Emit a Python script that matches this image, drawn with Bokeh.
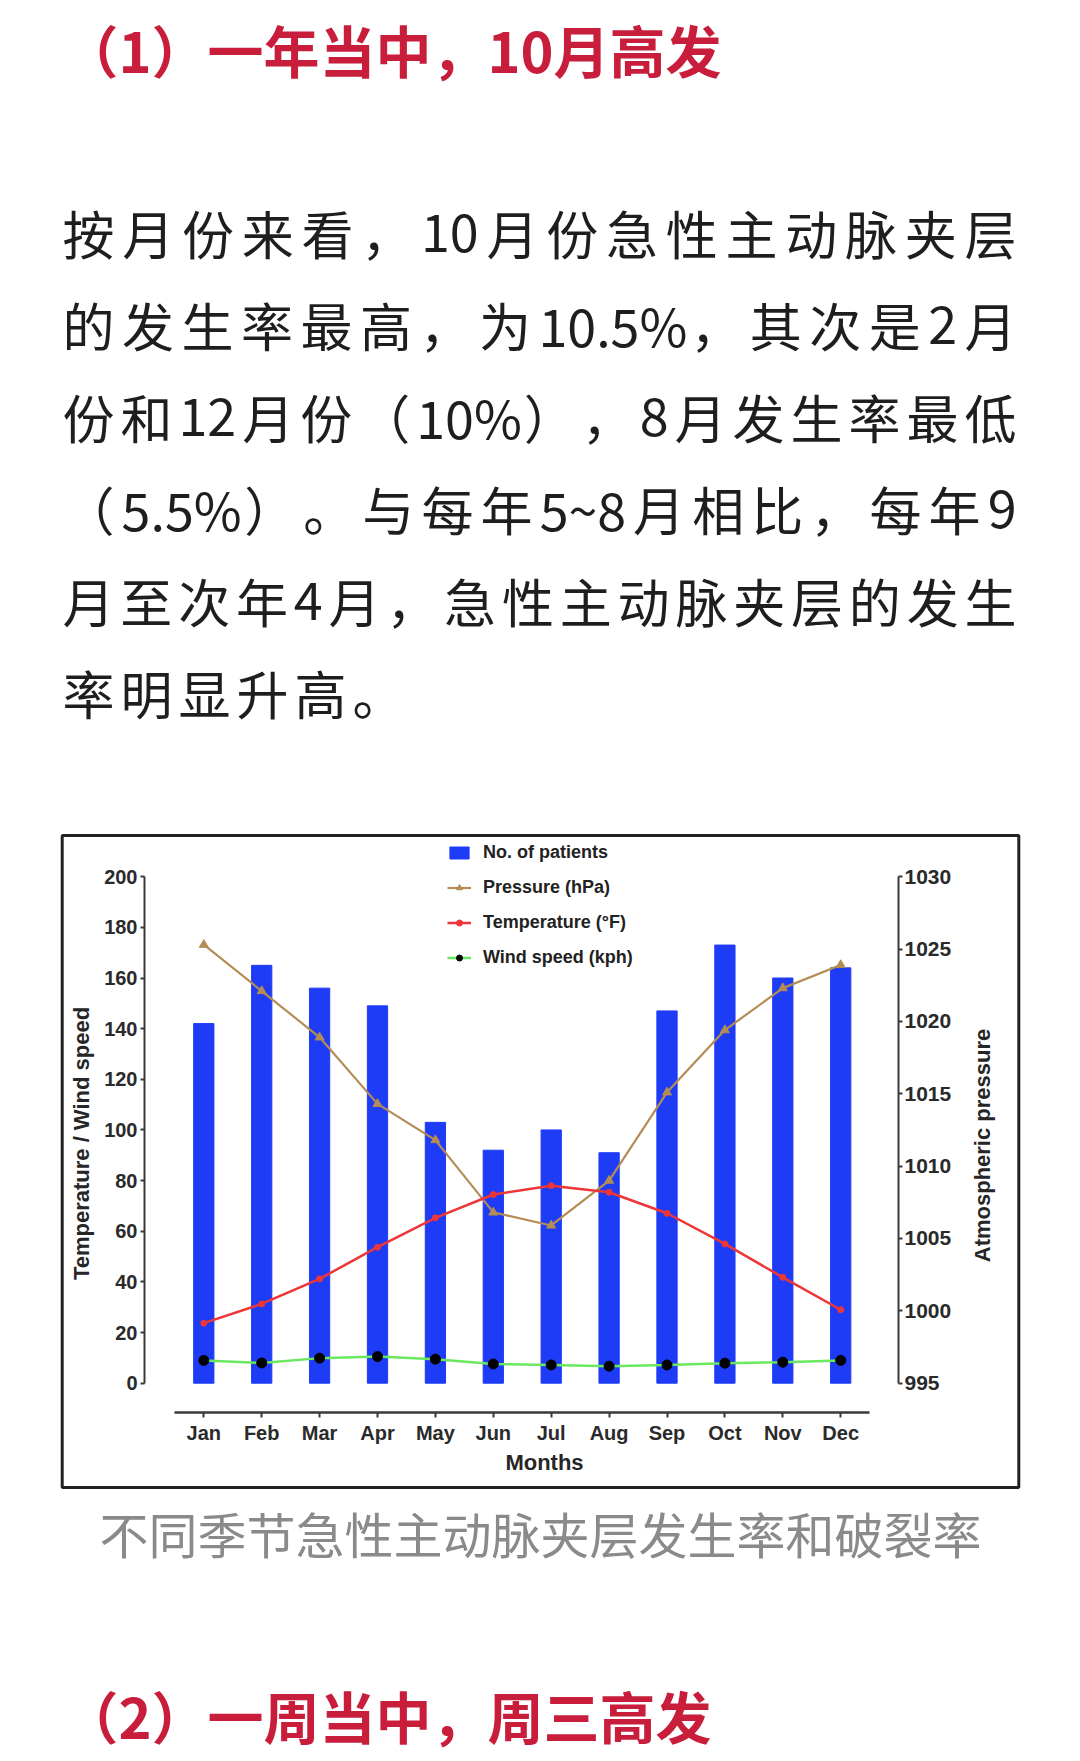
import math
from bokeh.plotting import figure
from bokeh.models import (Range1d, LinearAxis, FixedTicker, Label, Legend,
                          LegendItem, BoxAnnotation)
from bokeh.embed import file_html
from bokeh.resources import INLINE

# ---------------- data ----------------
months = ["Jan", "Feb", "Mar", "Apr", "May", "Jun",
          "Jul", "Aug", "Sep", "Oct", "Nov", "Dec"]
patients = [142, 165, 156, 149, 103, 92, 100, 91, 147, 173, 160, 164]
pressure_hpa = [1025.3, 1022.1, 1018.9, 1014.3, 1011.8, 1006.8,
                1005.9, 1009.0, 1015.1, 1019.4, 1022.3, 1023.9]
temperature_f = [23.7, 31.3, 41.2, 53.7, 65.3, 74.5,
                 78.0, 75.4, 67.1, 55.0, 41.8, 29.0]
wind_kph = [9.0, 8.0, 9.9, 10.5, 9.5, 7.6, 7.2, 6.7, 7.2, 7.9, 8.3, 9.0]
left_ticks = [0, 20, 40, 60, 80, 100, 120, 140, 160, 180, 200]
right_ticks = [995, 1000, 1005, 1010, 1015, 1020, 1025, 1030]

title1 = "（1）一年当中，10月高发"
paragraph = [
    "按月份来看，10月份急性主动脉夹层",
    "的发生率最高，为10.5%，其次是2月",
    "份和12月份（10%），8月发生率最低",
    "（5.5%）。与每年5~8月相比，每年9",
    "月至次年4月，急性主动脉夹层的发生",
    "率明显升高。",
]
caption = "不同季节急性主动脉夹层发生率和破裂率"
title2 = "（2）一周当中，周三高发"
left_title = "Temperature / Wind speed"
right_title = "Atmospheric pressure"
x_title = "Months"

# ---------------- layout (page pixels) ----------------
W, H = 1080, 1761
AXL, AXR, AXB = 144, 898, 1412          # axis line positions
JAN_PX, STEP_PX = 203.3, 57.9
ZERO_PX, TOP_PX = 1382.7, 876.2

ypp = (ZERO_PX - TOP_PX) / 200.0
rpp = (ZERO_PX - TOP_PX) / 35.0
x_start, x_end = -JAN_PX / STEP_PX, (W - JAN_PX) / STEP_PX
y_start, y_end = (ZERO_PX - H) / ypp, ZERO_PX / ypp
r_start, r_end = 995 + (ZERO_PX - H) / rpp, 995 + ZERO_PX / rpp


def dx(px):
    return (px - JAN_PX) / STEP_PX


def dy(py):
    return (ZERO_PX - py) / ypp


BLUE = "#1e3cf6"
TAN = "#b48c55"
RED = "#ee3538"
GREEN = "#6ae860"
TITLE_RED = "#c81e3c"
AX = "#3a3a3a"
LAT = "Liberation Sans"
CJK = "Noto Sans CJK SC"

p = figure(width=W, height=H,
           x_range=Range1d(x_start, x_end), y_range=Range1d(y_start, y_end),
           output_backend="svg", toolbar_location=None,
           x_axis_type=None, y_axis_type=None,
           min_border=0, min_border_left=0, min_border_right=0,
           min_border_top=0, min_border_bottom=0)
p.title.visible = False
p.outline_line_color = None
p.background_fill_color = "white"
p.border_fill_color = "white"
p.extra_y_ranges = {"pres": Range1d(r_start, r_end)}

xs = list(range(len(months)))


def style_axis(ax, size, tick_out, standoff):
    ax.axis_line_color = AX
    ax.major_tick_line_color = AX
    ax.major_tick_line_width = 2
    ax.major_tick_out = tick_out
    ax.major_tick_in = 0
    ax.minor_tick_line_color = None
    ax.major_label_standoff = standoff
    ax.major_label_text_font = LAT
    ax.major_label_text_font_style = "bold"
    ax.major_label_text_font_size = size
    ax.major_label_text_color = "#2a2a2a"


xa = LinearAxis(ticker=FixedTicker(ticks=xs), bounds=(-0.5, 11.5),
                fixed_location=dy(AXB))
xa.major_label_overrides = {i: m for i, m in enumerate(months)}
style_axis(xa, "20px", 5, 4)
xa.axis_line_width = 2.5
p.add_layout(xa, "below")

ya = LinearAxis(ticker=FixedTicker(ticks=left_ticks), bounds=(0, 200),
                fixed_location=dx(AXL))
style_axis(ya, "20px", 4, 3)
ya.axis_line_width = 2
p.add_layout(ya, "left")

ra = LinearAxis(y_range_name="pres", ticker=FixedTicker(ticks=right_ticks),
                bounds=(995, 1030), fixed_location=dx(AXR))
style_axis(ra, "21px", 4, 2)
ra.axis_line_width = 2
p.add_layout(ra, "right")

# ---------------- glyphs ----------------
bars = p.vbar(x=xs, top=patients, bottom=0, width=0.35,
              fill_color=BLUE, line_color=BLUE)

pl = p.line(xs, pressure_hpa, y_range_name="pres", line_color=TAN, line_width=2.2)
ps = p.scatter(xs, pressure_hpa, y_range_name="pres", marker="triangle",
               size=9, fill_color=TAN, line_color=TAN)

tl = p.line(xs, temperature_f, line_color=RED, line_width=2.5)
ts = p.scatter(xs, temperature_f, marker="circle", size=6,
               fill_color=RED, line_color=RED)

wl = p.line(xs, wind_kph, line_color=GREEN, line_width=2.5)
ws = p.scatter(xs, wind_kph, marker="circle", size=10,
               fill_color="black", line_color="black")

legend = Legend(items=[
    LegendItem(label="No. of patients", renderers=[bars]),
    LegendItem(label="Pressure (hPa)", renderers=[pl, ps]),
    LegendItem(label="Temperature (°F)", renderers=[tl, ts]),
    LegendItem(label="Wind speed (kph)", renderers=[wl, ws]),
], location=(447, H - 968))
legend.border_line_color = None
legend.background_fill_alpha = 0
legend.padding = 0
legend.margin = 0
legend.spacing = 14
legend.label_height = 20
legend.glyph_height = 15
legend.glyph_width = 24
legend.label_standoff = 12
legend.label_text_font = LAT
legend.label_text_font_style = "bold"
legend.label_text_font_size = "18px"
legend.label_text_color = "#222222"
p.add_layout(legend)

# ---------------- chart box and titles ----------------
p.add_layout(BoxAnnotation(left=dx(61.7), right=dx(1018.3), top=dy(835), bottom=dy(1487),
                           fill_color=None, fill_alpha=0, line_color="#222222",
                           line_alpha=1.0, line_width=3))

axis_title = dict(text_font=LAT, text_font_style="bold", text_font_size="22px",
                  text_color="#262626", text_align="center", text_baseline="middle")
p.add_layout(Label(x=dx(81), y=dy(1143), text=left_title, angle=math.pi / 2, **axis_title))
p.add_layout(Label(x=dx(982), y=dy(1145), text=right_title, angle=math.pi / 2, **axis_title))
p.add_layout(Label(x=dx(544), y=dy(1462), text=x_title, **axis_title))

# ---------------- page texts ----------------
head = dict(text_font=CJK, text_font_style="bold", text_font_size="56px",
            text_color=TITLE_RED, text_align="left", text_baseline="middle")
p.add_layout(Label(x=dx(62), y=dy(48), text=title1, **head))
p.add_layout(Label(x=dx(62), y=dy(1714), text=title2, **head))

p.add_layout(Label(x=dx(540), y=dy(1532), text=caption, text_font=CJK,
                   text_font_size="49px", text_color="#8a8a8a",
                   text_align="center", text_baseline="middle"))

FS = 52
ASCII_W = {"%": 0.84, ".": 0.27, "~": 0.55}


def split_units(line):
    out, buf = [], ""
    for ch in line:
        if ord(ch) < 128:
            buf += ch
        else:
            if buf:
                out.append(buf)
                buf = ""
            out.append(ch)
    if buf:
        out.append(buf)
    return out


def unit_w(u):
    if len(u) == 1 and ord(u) >= 128:
        return FS
    return sum(ASCII_W.get(c, 0.555) for c in u) * FS


para = dict(text_font=CJK, text_font_size=f"{FS}px", text_color="#1e1e1e",
            text_align="left", text_baseline="middle")
LEFT_PX, RIGHT_PX = 62, 1016
LAST_GAP = 6
for i, line in enumerate(paragraph):
    yc = 232 + 92 * i
    us = split_units(line)
    ws_ = [unit_w(u) for u in us]
    if i == len(paragraph) - 1:
        gap = LAST_GAP
    else:
        gap = (RIGHT_PX - LEFT_PX - sum(ws_)) / (len(us) - 1)
    xcur = LEFT_PX
    for u, w in zip(us, ws_):
        p.add_layout(Label(x=dx(xcur), y=dy(yc), text=u, **para))
        xcur += w + gap

open("out.html", "w").write(file_html(p, INLINE))
